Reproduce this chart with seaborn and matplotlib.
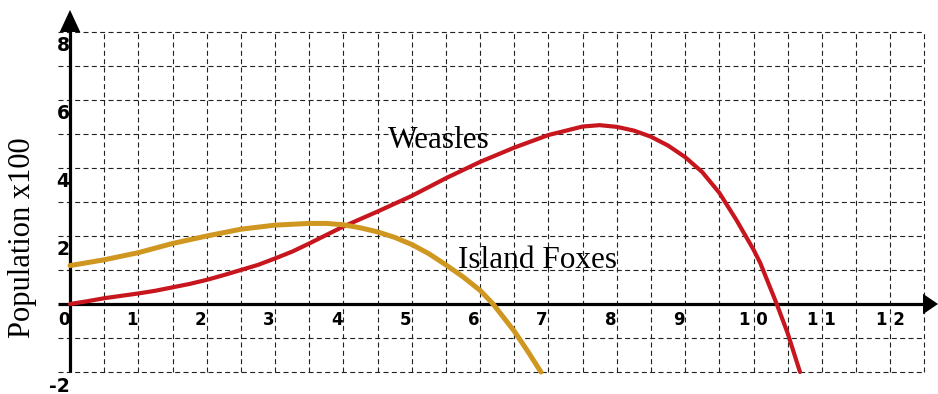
import matplotlib
matplotlib.use("Agg")
import matplotlib.pyplot as plt
import numpy as np
import pandas as pd
import seaborn as sns

# values (x in years, y in hundreds)
weasel_x = [0, 0.25, 0.5, 0.75, 1, 1.25, 1.5, 1.75, 2, 2.25, 2.5, 2.75, 3, 3.25, 3.5, 3.75,
            4, 4.5, 5, 5.5, 6, 6.5, 7, 7.5, 7.75, 8, 8.25, 8.5, 8.75, 9, 9.25, 9.5, 9.75,
            10, 10.1, 10.34, 10.5, 10.68]
weasel_y = [0, 0.08, 0.17, 0.24, 0.31, 0.39, 0.49, 0.59, 0.71, 0.85, 1.0, 1.15, 1.34, 1.54,
            1.78, 2.03, 2.28, 2.72, 3.18, 3.7, 4.18, 4.6, 4.97, 5.22, 5.26, 5.21, 5.1, 4.92,
            4.66, 4.32, 3.88, 3.27, 2.47, 1.6, 1.2, 0, -0.86, -2]
fox_x = [0, 0.5, 1, 1.5, 2, 2.5, 3, 3.5, 3.75, 4, 4.25, 4.5, 4.75, 5, 5.25, 5.5, 5.75, 6,
         6.19, 6.5, 6.7, 6.89]
fox_y = [1.13, 1.3, 1.51, 1.78, 2.0, 2.2, 2.32, 2.37, 2.37, 2.33, 2.24, 2.12, 1.96, 1.75,
         1.48, 1.15, 0.8, 0.4, 0, -0.8, -1.4, -2]

x_ticks = list(range(0, 13))
x_tick_labels = ["0", "1", "2", "3", "4", "5", "6", "7", "8", "9", "1 0", "1 1", "1 2"]
y_ticks = [-2, 2, 4, 6, 8]
y_tick_labels = ["-2", "2", "4", "6", "8"]

sns.set_style("white")
plt.rcParams["font.family"] = ["Liberation Sans Narrow", "DejaVu Sans"]
plt.rcParams["text.color"] = "black"

fig = plt.figure(figsize=(9.38, 3.94), dpi=100)
ax = fig.add_axes([0, 0, 1, 1])

# dashed grid
dash = (0, (4.5, 3))
for gx in np.arange(0.5, 12.51, 0.5):
    ax.vlines(gx, -2, 8, colors="#222222", lw=0.8, linestyles=dash, zorder=1)
for gy in [-2, -1, 1, 2, 3, 4, 5, 6, 7, 8]:
    ax.hlines(gy, -0.17, 12.5, colors="#222222", lw=0.8, linestyles=dash, zorder=1)

# axes with arrow heads
ax.plot([0, 0], [-2, 8.1], color="black", lw=2.3, zorder=3, solid_capstyle="butt")
ax.plot([-0.17, 12.55], [0, 0], color="black", lw=2.3, zorder=3, solid_capstyle="butt")
ax.fill([-0.15, 0.15, 0], [8.0, 8.0, 8.65], color="black", zorder=4, lw=0)
ax.fill([12.48, 12.48, 12.7], [0.3, -0.3, 0], color="black", zorder=4, lw=0)

weasels = pd.DataFrame({"year": weasel_x, "pop": weasel_y})
foxes = pd.DataFrame({"year": fox_x, "pop": fox_y})
sns.lineplot(data=weasels, x="year", y="pop", ax=ax, color="#c8161e", lw=3.0,
             sort=False, estimator=None, zorder=5)
sns.lineplot(data=foxes, x="year", y="pop", ax=ax, color="#cf9620", lw=3.6,
             sort=False, estimator=None, zorder=5)
ax.set_xlim(-70 / 68.35, 868 / 68.35)
ax.set_ylim(-90 / 34, 304 / 34)
ax.axis("off")

# tick labels
for t, lab in zip(x_ticks, x_tick_labels):
    off = 0 if len(lab) > 1 else -0.095
    ax.text(t + off, -0.47, lab, ha="center", va="center", fontsize=12,
            fontweight="bold", zorder=6)
for t, lab in zip(y_ticks, y_tick_labels):
    yy = -2.42 if t == -2 else t - 0.41
    xx = -0.15 if t == -2 else -0.1
    ax.text(xx, yy, lab, ha="center", va="center", fontsize=13.5,
            fontweight="bold", zorder=6)

serif = ["Liberation Serif", "DejaVu Serif"]
ax.text(-0.70, 1.94, "Population x100", rotation=90, ha="center", va="center",
        fontsize=22, family=serif)
ax.text(4.65, 4.59, "Weasles", ha="left", va="baseline", fontsize=22.5, family=serif, zorder=6)
ax.text(5.68, 1.06, "Island Foxes", ha="left", va="baseline", fontsize=22.5, family=serif, zorder=6)

fig.savefig("out.png", dpi=100)
